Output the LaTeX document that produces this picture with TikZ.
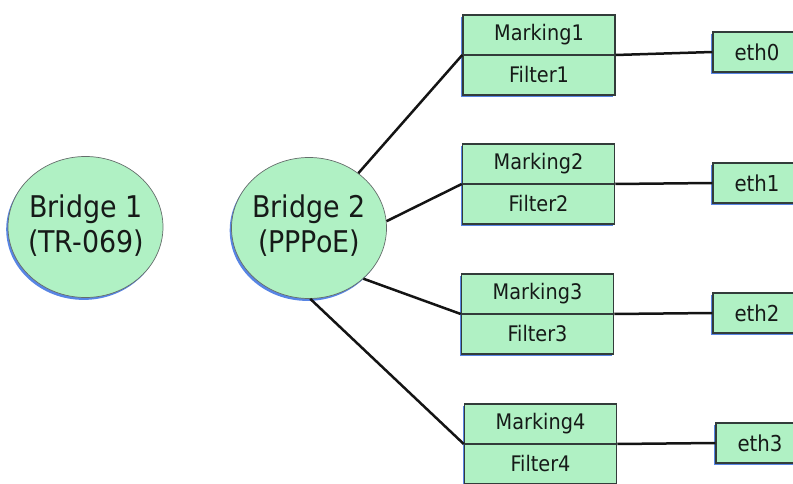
\documentclass[tikz,border=0pt]{standalone}
\usepackage{fontspec}
\setmainfont{DejaVu Sans Condensed}
\usetikzlibrary{shapes.geometric,shadows}

\definecolor{mint}{RGB}{176,241,196}
\definecolor{boxline}{RGB}{50,60,58}
\definecolor{shadeblue}{RGB}{70,120,225}
\definecolor{inkdark}{RGB}{22,26,24}

\newfontfamily\labelfont{DejaVu Sans Condensed}

\tikzset{
  bluedrop/.style={drop shadow={shadow xshift=-1.8bp, shadow yshift=-2.4bp, fill=shadeblue, opacity=0.9}},
  bridge/.style={ellipse, draw=boxline!75, line width=0.7bp, fill=mint, bluedrop,
    minimum width=155bp, minimum height=141bp, inner sep=0pt},
  bridgetext/.style={inner sep=0pt, align=center, text=inkdark,
    font=\labelfont\fontsize{30}{35}\selectfont},
  filterbox/.style={rectangle, draw=boxline, line width=1.5bp, fill=mint, bluedrop,
    minimum width=152bp, minimum height=80bp, inner sep=0pt},
  ethbox/.style={rectangle, draw=boxline, line width=1.5bp, fill=mint, bluedrop,
    minimum width=88bp, minimum height=40bp, inner sep=0pt,
    text=inkdark, font=\labelfont\fontsize{22}{26}\selectfont},
  parttext/.style={inner sep=0pt, text=inkdark, font=\labelfont\fontsize{21.5}{26}\selectfont},
  divider/.style={draw=boxline, line width=1.5bp},
  link/.style={draw=black!92, line width=2.5bp}
}

\begin{document}
\begin{tikzpicture}[x=1bp, y=-1bp]
  \useasboundingbox (0,0) rectangle (793,484);

  % bridges
  \node[bridge] (b1) at (85.5,227) {};
  \node[bridge] (b2) at (309,228) {};
  \node[bridgetext] (b1t) at (86,226) {Bridge 1\\(TR-069)};
  \node[bridgetext] (b2t) at (309,226) {Bridge 2\\(PPPoE)};

  % marking / filter pairs
  \node[filterbox] (m1) at (539,55) {};
  \node[filterbox] (m2) at (538.5,184) {};
  \node[filterbox] (m3) at (537.5,314) {};
  \node[filterbox] (m4) at (540.5,444) {};
  \draw[divider] (m1.west) -- (m1.east);
  \draw[divider] (m2.west) -- (m2.east);
  \draw[divider] (m3.west) -- (m3.east);
  \draw[divider] (m4.west) -- (m4.east);

  \node[parttext] (mk1) at (539,35) {Marking1};
  \node[parttext] (ft1) at (539,75) {Filter1};
  \node[parttext] (mk2) at (538.5,164) {Marking2};
  \node[parttext] (ft2) at (538.5,204) {Filter2};
  \node[parttext] (mk3) at (537.5,294) {Marking3};
  \node[parttext] (ft3) at (537.5,334) {Filter3};
  \node[parttext] (mk4) at (540.5,424) {Marking4};
  \node[parttext] (ft4) at (540.5,464) {Filter4};

  % interfaces
  \node[ethbox] (e0) at (757,52) {eth0};
  \node[ethbox] (e1) at (757,183) {eth1};
  \node[ethbox] (e2) at (757,313) {eth2};
  \node[ethbox] (e3) at (760,443) {eth3};

  % links from bridge 2 to the filters
  \draw[link] (b2.48) -- (m1.west);
  \draw[link] (b2.5) -- (m2.west);
  \draw[link] (b2.-43) -- (m3.west);
  \draw[link] (b2.-89) -- (m4.west);

  % links from the filters to the interfaces
  \draw[link] (m1.east) -- (e0.west);
  \draw[link] (m2.east) -- (e1.west);
  \draw[link] (m3.east) -- (e2.west);
  \draw[link] (m4.east) -- (e3.west);
\end{tikzpicture}
\end{document}
